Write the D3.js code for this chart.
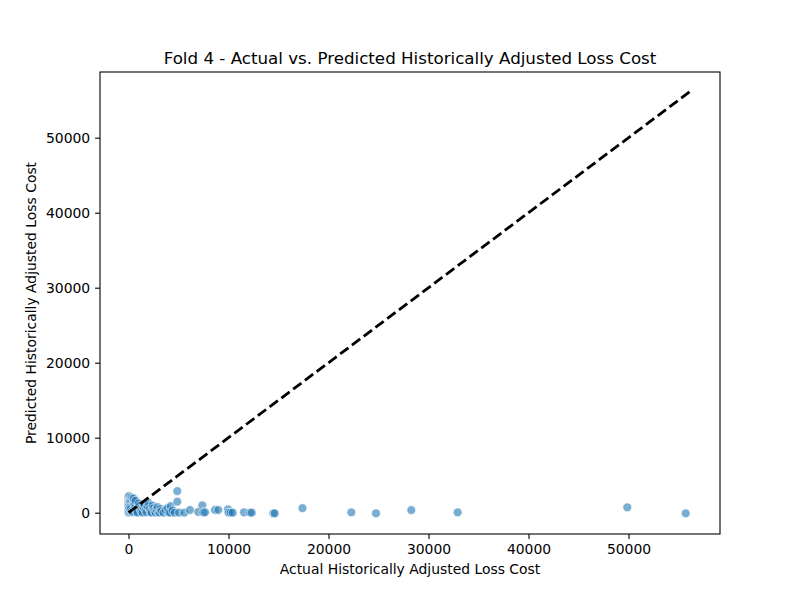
<!DOCTYPE html>
<html>
<head>
<meta charset="utf-8">
<script src="https://cdn.jsdelivr.net/npm/d3@7"></script>
<style>
  body { margin: 0; background: #fff; }
  text { font-family: "DejaVu Sans", sans-serif; }
</style>
</head>
<body>
<div id="chart"></div>
<script>
const w = 800;
const h = 600;

// actual vs predicted
const actual = [
  0, 0, 0, 0, 0, 0, 0, 0, 0, 0, 0, 0,
  60, 120, 180, 250, 320, 400, 150, 220, 300, 380, 90, 200, 350, 450,
  520, 600, 680, 750, 820, 900, 500, 700,
  1000, 1100, 1200, 1300, 1400, 1500, 1600, 1700, 1800, 1900, 2000, 2100,
  2200, 2300, 2400, 2500, 2600, 2700, 2800, 2900, 3000, 3100, 3200, 3300,
  3500, 3700, 3900, 4000, 4150, 4220, 4400, 4600, 4880, 4880, 5050, 5580,
  6150, 6980, 7380, 7480, 7650, 8650, 8980, 9950, 10000, 10200, 10420,
  11550, 12150, 12320, 14480, 14620, 17400, 22280, 24750, 28280, 32920,
  49880, 55720
];
const predicted = [
  0, 120, 260, 410, 600, 780, 950, 1150, 1350, 1600, 1850, 2100,
  2200, 1950, 1700, 2050, 1850, 1600, 1400, 1200, 1000, 800, 650, 450, 250, 80,
  1350, 1100, 700, 400, 150, 0, 1900, 1600,
  1250, 900, 500, 200, 0, 700, 1050, 350, 50, 800, 1300, 500,
  150, 0, 950, 600, 250, 0, 400, 750, 100, 0, 500, 200,
  0, 350, 600, 50, 0, 890, 300, 0, 1470, 2890, 0, 0,
  360, 100, 990, 50, 50, 360, 360, 450, 0, 0, 0,
  50, 0, 0, -80, -80, 610, 50, -80, 350, 50,
  720, -80
];
const lineEnds = [0, 56200];
const xTicks = [0, 10000, 20000, 30000, 40000, 50000];
const yTicks = [0, 10000, 20000, 30000, 40000, 50000];

const margin = { left: 100, right: 80, top: 72, bottom: 66 };

const svg = d3.select("#chart")
  .append("svg")
  .attr("width", w)
  .attr("height", h);

const xScale = d3.scaleLinear()
  .domain([-2850, 59150])
  .range([margin.left, w - margin.right]);

const yScale = d3.scaleLinear()
  .domain([-2840, 58760])
  .range([h - margin.bottom, margin.top]);

// points
svg.append("g")
  .selectAll("circle")
  .data(actual)
  .enter()
  .append("circle")
  .attr("cx", d => xScale(d))
  .attr("cy", (d, i) => yScale(predicted[i]))
  .attr("r", 4.4)
  .attr("fill", "#1f77b4")
  .attr("fill-opacity", 0.6)
  .attr("stroke", "#fff")
  .attr("stroke-opacity", 0.6)
  .attr("stroke-width", 1);

// perfect prediction line
svg.append("line")
  .attr("x1", xScale(lineEnds[0]))
  .attr("y1", yScale(lineEnds[0]))
  .attr("x2", xScale(lineEnds[1]))
  .attr("y2", yScale(lineEnds[1]))
  .attr("stroke", "#000")
  .attr("stroke-width", 2.8)
  .attr("stroke-dasharray", "10.3,4.4");

const xAxis = d3.axisBottom(xScale)
  .tickValues(xTicks)
  .tickFormat(d3.format("d"))
  .tickSize(4.9)
  .tickPadding(4.9);

const yAxis = d3.axisLeft(yScale)
  .tickValues(yTicks)
  .tickFormat(d3.format("d"))
  .tickSize(4.9)
  .tickPadding(4.9);

const gx = svg.append("g")
  .attr("transform", `translate(0, ${h - margin.bottom})`)
  .call(xAxis);

const gy = svg.append("g")
  .attr("transform", `translate(${margin.left}, 0)`)
  .call(yAxis);

[gx, gy].forEach(g => {
  g.select(".domain").remove();
  g.selectAll(".tick line").attr("stroke", "#000").attr("stroke-width", 1.1);
  g.selectAll(".tick text")
    .attr("fill", "#000")
    .style("font-size", "13.9px")
    .style("font-family", "DejaVu Sans");
});

// frame
svg.append("rect")
  .attr("x", margin.left)
  .attr("y", margin.top)
  .attr("width", w - margin.left - margin.right)
  .attr("height", h - margin.top - margin.bottom)
  .attr("fill", "none")
  .attr("stroke", "#000")
  .attr("stroke-width", 1.1);

svg.append("text")
  .attr("x", (margin.left + w - margin.right) / 2)
  .attr("y", 64)
  .attr("text-anchor", "middle")
  .style("font-size", "16.7px")
  .text("Fold 4 - Actual vs. Predicted Historically Adjusted Loss Cost");

svg.append("text")
  .attr("x", (margin.left + w - margin.right) / 2)
  .attr("y", 574)
  .attr("text-anchor", "middle")
  .style("font-size", "13.9px")
  .text("Actual Historically Adjusted Loss Cost");

svg.append("text")
  .attr("transform", `translate(36, ${(margin.top + h - margin.bottom) / 2}) rotate(-90)`)
  .attr("text-anchor", "middle")
  .style("font-size", "13.9px")
  .text("Predicted Historically Adjusted Loss Cost");
</script>
</body>
</html>
